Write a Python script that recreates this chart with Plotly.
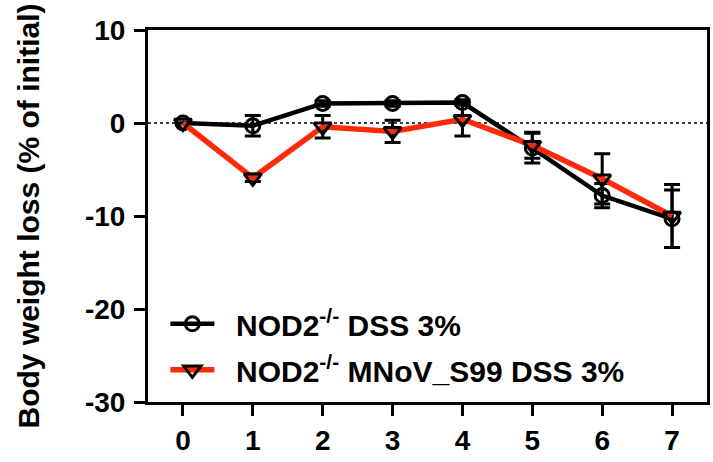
import plotly.graph_objects as go

# Days after DSS start
days = [0, 1, 2, 3, 4, 5, 6, 7]

# NOD2-/- DSS 3%: mean body weight change and SEM
wt_mean = [0.0, -0.3, 2.1, 2.1, 2.2, -2.7, -7.8, -10.3]
wt_sem = [0.0, 1.1, 0.3, 0.3, 0.3, 1.6, 1.3, 3.1]

# NOD2-/- MNoV_S99 DSS 3%: mean body weight change and SEM
mnov_mean = [0.0, -5.9, -0.4, -0.9, 0.4, -2.4, -6.0, -10.0]
mnov_sem = [0.0, 0.4, 1.2, 1.2, 1.8, 1.4, 2.7, 3.4]

y_ticks = [10, 0, -10, -20, -30]
x_ticks = days

series_names = [
    "NOD2<sup>-/-</sup> DSS 3%",
    "NOD2<sup>-/-</sup> MNoV_S99 DSS 3%",
]

FONT = "Liberation Sans, Arial, sans-serif"
RED = "#FF2A0A"
PAD = "\u00a0\u00a0"  # gap between legend symbol and label

fig = go.Figure()

fig.add_trace(go.Scatter(
    x=days, y=wt_mean,
    name=PAD + series_names[0],
    legendgroup="wt",
    mode="lines+markers",
    line=dict(color="black", width=4.5),
    marker=dict(symbol="circle-open", size=14, color="black",
                line=dict(width=3, color="black")),
    error_y=dict(type="data", array=wt_sem, visible=True,
                 color="black", thickness=3, width=8),
))

fig.add_trace(go.Scatter(
    x=days, y=mnov_mean,
    name=PAD + series_names[1],
    legendgroup="mnov",
    mode="lines+markers",
    line=dict(color=RED, width=5.5),
    marker=dict(symbol="triangle-down-open", size=15, color="black",
                line=dict(width=3, color="black")),
    error_y=dict(type="data", array=mnov_sem, visible=True,
                 color="black", thickness=3, width=8),
))

# dotted reference line at zero change
fig.add_shape(type="line", xref="paper", x0=0, x1=1, yref="y", y0=0, y1=0,
              line=dict(color="black", width=1.5, dash="dot"), layer="below")

fig.update_layout(
    width=713, height=462,
    margin=dict(l=148, r=3, t=30, b=60),
    paper_bgcolor="white", plot_bgcolor="white",
    font=dict(family=FONT, color="black", size=28, weight="bold"),
    showlegend=True,
    legend=dict(
        x=0.031, y=0.28, xanchor="left", yanchor="top",
        bgcolor="rgba(0,0,0,0)",
        font=dict(family=FONT, size=30, color="black", weight="bold"),
        itemwidth=44,
        traceorder="grouped",
        tracegroupgap=4,
    ),
)

fig.update_xaxes(
    range=[-0.5, 7.5],
    tickmode="array", tickvals=x_ticks, ticktext=[str(d) for d in x_ticks],
    showgrid=False, zeroline=False,
    showline=True, linecolor="black", linewidth=3, mirror=True,
    ticks="outside", ticklen=11, tickwidth=3, tickcolor="black",
    tickfont=dict(family=FONT, size=28, color="black", weight="bold"),
)

fig.update_yaxes(
    range=[-30, 10],
    tickmode="array", tickvals=y_ticks, ticktext=[str(v) for v in y_ticks],
    showgrid=False, zeroline=False,
    showline=True, linecolor="black", linewidth=3, mirror=True,
    ticks="outside", ticklen=11, tickwidth=3, tickcolor="black",
    ticklabelstandoff=3,
    tickfont=dict(family=FONT, size=28, color="black", weight="bold"),
    title=dict(text="Body weight loss (% of initial)",
               font=dict(family=FONT, size=30, color="black", weight="bold"),
               standoff=37),
)

fig.write_html("out.html")
